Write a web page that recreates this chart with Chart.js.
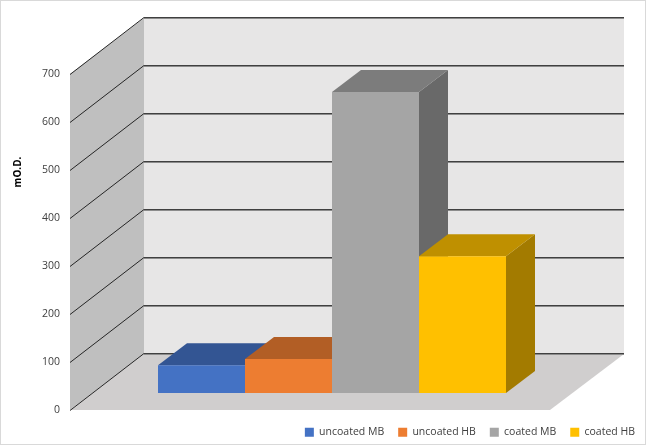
<!DOCTYPE html>
<html>
<head>
<meta charset="utf-8">
<style>
  html, body { margin: 0; padding: 0; background: #fff; }
  canvas { display: block; }
</style>
<script src="https://cdn.jsdelivr.net/npm/chart.js@4"></script>
</head>
<body>
<canvas id="myChart" width="646" height="445"></canvas>
<script>
const categories = ['samples'];
const seriesNames = ['uncoated MB', 'uncoated HB', 'coated MB', 'coated HB'];
const seriesValues = [58, 71, 627, 285];
const yTicks = [0, 100, 200, 300, 400, 500, 600, 700];
const yTitle = 'mO.D.';

const frontColors = ['#4472c4', '#ed7d31', '#a5a5a5', '#ffc000'];
const topColors = ['#335593', '#b25e25', '#7c7c7c', '#bf9000'];
const sideColors = ['#294476', '#8e4b1e', '#696969', '#a37b00'];

// how far the walls and the bars are pushed back from the front plane
const wallDepth = { x: 74, y: -56 };
const barOffset = { x: 22, y: -17 };
const barDepth = { x: 29, y: -22 };

const polygon = (ctx, points, color) => {
  ctx.fillStyle = color;
  ctx.beginPath();
  points.forEach(([x, y], i) => (i ? ctx.lineTo(x, y) : ctx.moveTo(x, y)));
  ctx.closePath();
  ctx.fill();
};

const line = (ctx, x1, y1, x2, y2, color) => {
  ctx.strokeStyle = color;
  ctx.lineWidth = 1;
  ctx.beginPath();
  ctx.moveTo(x1, y1);
  ctx.lineTo(x2, y2);
  ctx.stroke();
};

const drawWalls = (chart) => {
  const { ctx, chartArea: { left, right, top, bottom }, scales: { y } } = chart;
  const dx = wallDepth.x;
  const dy = wallDepth.y;

  polygon(ctx, [[left + dx, top + dy], [right + dx, top + dy], [right + dx, bottom + dy], [left + dx, bottom + dy]], '#e7e6e6');
  polygon(ctx, [[left, top], [left + dx, top + dy], [left + dx, bottom + dy], [left, bottom]], '#bfbfbf');
  polygon(ctx, [[left, bottom], [left + dx, bottom + dy], [right + dx, bottom + dy], [right, bottom]], '#d0cece');

  yTicks.forEach((tick) => {
    const py = Math.round(y.getPixelForValue(tick));
    line(ctx, left, py + 0.5, left + dx, py + dy - 0.5, '#262626');
    line(ctx, left + dx, py + dy + 0.5, right + dx, py + dy + 0.5, '#8c8c8c');
    line(ctx, left + dx, py + dy - 0.5, right + dx, py + dy - 0.5, '#404040');
  });
};

const chart3d = {
  id: 'chart3d',
  // the legend box is too tight for its text otherwise
  afterLayout(chart) {
    chart.legend.top += 3;
    chart.legend.bottom += 3;
  },
  beforeDraw(chart) {
    const { ctx, width, height } = chart;
    ctx.save();
    ctx.fillStyle = '#fff';
    ctx.fillRect(0, 0, width, height);
    ctx.strokeStyle = '#d9d9d9';
    ctx.strokeRect(0.5, 0.5, width - 1, height - 1);
    ctx.restore();
  },
  // bars have to be painted left to right so the faces cover each other
  beforeDatasetsDraw(chart) {
    const { ctx } = chart;
    ctx.save();
    drawWalls(chart);

    chart.data.datasets.forEach((ds, i) => {
      const meta = chart.getDatasetMeta(i);
      const bar = meta.data[0];
      const l = bar.x - bar.width / 2 + barOffset.x;
      const r = bar.x + bar.width / 2 + barOffset.x;
      const t = bar.y + barOffset.y;
      const b = bar.base + barOffset.y;
      const dx = barDepth.x;
      const dy = barDepth.y;

      polygon(ctx, [[r, t], [r + dx, t + dy], [r + dx, b + dy], [r, b]], sideColors[i]);
      polygon(ctx, [[l, t], [l + dx, t + dy], [r + dx, t + dy], [r, t]], topColors[i]);

      ctx.save();
      ctx.translate(barOffset.x, barOffset.y);
      meta.controller.draw();
      ctx.restore();
    });

    ctx.restore();
    return false;
  },
  afterDraw(chart) {
    const { ctx } = chart;
    ctx.save();
    ctx.translate(18, 172);
    ctx.rotate(-Math.PI / 2);
    ctx.font = 'bold 10px "Open Sans"';
    ctx.fillStyle = '#000';
    ctx.textAlign = 'center';
    ctx.textBaseline = 'middle';
    ctx.fillText(yTitle, 0, 0);
    ctx.restore();
  }
};

new Chart(document.querySelector('#myChart'), {
  type: 'bar',
  data: {
    labels: categories,
    datasets: seriesNames.map((name, i) => ({
      label: name,
      data: [seriesValues[i]],
      backgroundColor: frontColors[i],
      categoryPercentage: 0.725,
      barPercentage: 1
    }))
  },
  options: {
    responsive: false,
    animation: false,
    devicePixelRatio: 1,
    layout: { padding: { top: 74, right: -3, bottom: 0.5, left: 0 } },
    plugins: {
      tooltip: { enabled: false },
      legend: {
        position: 'bottom',
        align: 'end',
        labels: {
          boxWidth: 9,
          boxHeight: 9,
          padding: 14,
          color: '#404040',
          font: { family: '"Open Sans"', size: 10.5 }
        }
      }
    },
    scales: {
      x: { display: false },
      y: {
        min: 0,
        max: 700,
        afterFit: (scale) => { scale.width = 70; },
        afterBuildTicks: (scale) => { scale.ticks = yTicks.map((value) => ({ value })); },
        grid: { display: false, drawTicks: false },
        border: { display: false },
        ticks: {
          padding: 10,
          color: '#404040',
          font: { family: '"Open Sans"', size: 10.5 }
        }
      },
      // keeps the chart area clear of the right side, the legend still runs under it
      spacer: {
        type: 'linear',
        position: 'right',
        afterFit: (scale) => { scale.width = 99; },
        grid: { display: false, drawTicks: false },
        border: { display: false },
        ticks: { display: false }
      }
    }
  },
  plugins: [chart3d]
});
</script>
</body>
</html>
